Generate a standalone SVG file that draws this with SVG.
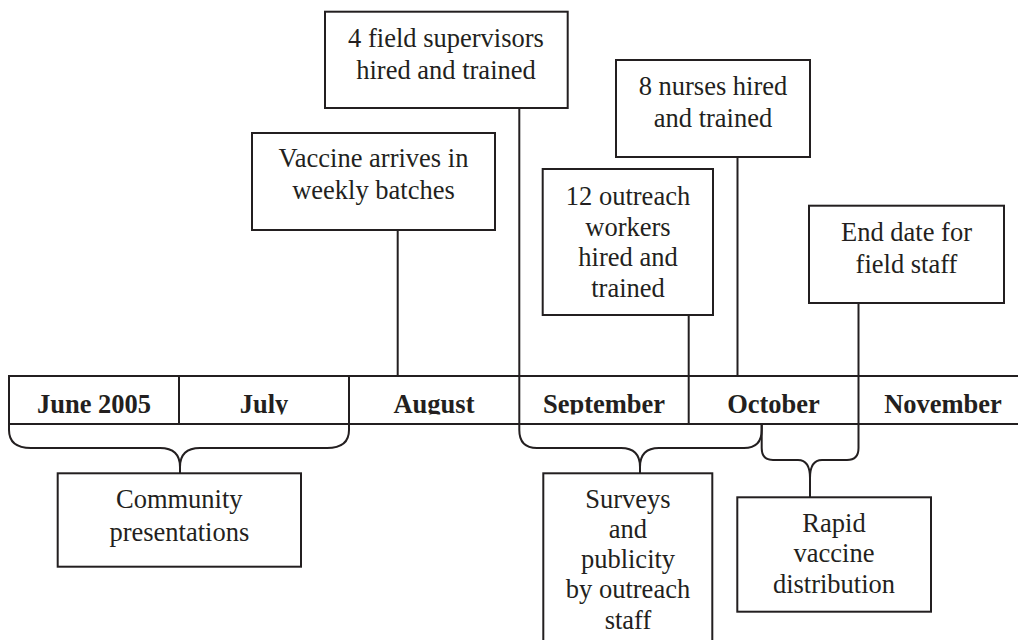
<svg xmlns="http://www.w3.org/2000/svg" width="1018" height="640" viewBox="0 0 1018 640">
<defs>
<style>
.box{fill:#fff;stroke:#231f20;stroke-width:2}
.ln{fill:none;stroke:#231f20;stroke-width:2}
.t{font-family:"Liberation Serif","Times New Roman",serif;font-size:26.5px;fill:#231f20;text-anchor:middle}
.m{font-family:"Liberation Serif","Times New Roman",serif;font-size:26.5px;font-weight:bold;fill:#231f20;text-anchor:middle}
</style>
<clipPath id="monthclip"><rect x="0" y="377" width="1018" height="37.5"/></clipPath>
</defs>
<rect width="1018" height="640" fill="#fff"/>

<g id="timeline">
<line class="ln" x1="9" y1="376" x2="1018" y2="376"/>
<line class="ln" x1="9" y1="424" x2="1018" y2="424"/>
<line class="ln" x1="9" y1="375" x2="9" y2="425"/>
<line class="ln" x1="179" y1="376" x2="179" y2="424"/>
<line class="ln" x1="349" y1="376" x2="349" y2="424"/>
<g clip-path="url(#monthclip)">
<text class="m" x="94" y="413">June 2005</text>
<text class="m" x="264" y="413">July</text>
<text class="m" x="434" y="413">August</text>
<text class="m" x="604" y="413">September</text>
<text class="m" x="773.5" y="413">October</text>
<text class="m" x="943" y="413">November</text>
</g>
</g>

<g id="connectors">
<line class="ln" x1="397.7" y1="230" x2="397.7" y2="376"/>
<line class="ln" x1="519.3" y1="108" x2="519.3" y2="424"/>
<line class="ln" x1="688.7" y1="315" x2="688.7" y2="424"/>
<line class="ln" x1="737.5" y1="157" x2="737.5" y2="376"/>
<line class="ln" x1="858.5" y1="303" x2="858.5" y2="424"/>
<path class="ln" d="M9,424 V430 Q9,448 31,448 H160 Q180,448 180,467 V473 M180,467 Q180,448 200,448 H327 Q349,448 349,430 V424"/>
<path class="ln" d="M519.3,424 V430 Q519.3,448 537,448 H621 Q640,448 640,467 V473 M640,467 Q640,448 659,448 H744 Q761.7,448 761.7,430 V424"/>
<path class="ln" d="M761.7,424 V448 Q761.7,460 773,460 H798 Q810,460 810,478 V497 M810,478 Q810,460 822,460 H847 Q858.5,460 858.5,448 V424"/>
</g>

<g id="node-supervisors">
<rect class="box" x="325" y="11.7" width="242.7" height="96.3"/>
<text class="t" x="446" y="46.7">4 field supervisors</text>
<text class="t" x="446" y="79">hired and trained</text>
</g>

<g id="node-vaccine">
<rect class="box" x="252" y="133" width="243" height="97"/>
<text class="t" x="373.5" y="166.7">Vaccine arrives in</text>
<text class="t" x="373.5" y="199">weekly batches</text>
</g>

<g id="node-nurses">
<rect class="box" x="616" y="60" width="194" height="97"/>
<text class="t" x="713" y="95">8 nurses hired</text>
<text class="t" x="713" y="127.3">and trained</text>
</g>

<g id="node-outreach">
<rect class="box" x="542.7" y="169" width="170.3" height="146"/>
<text class="t" x="628" y="205">12 outreach</text>
<text class="t" x="628" y="235.5">workers</text>
<text class="t" x="628" y="265.7">hired and</text>
<text class="t" x="628" y="296.7">trained</text>
</g>

<g id="node-enddate">
<rect class="box" x="809" y="205.7" width="195" height="97.3"/>
<text class="t" x="906.5" y="241">End date for</text>
<text class="t" x="906.5" y="272.7">field staff</text>
</g>

<g id="node-community">
<rect class="box" x="57.7" y="473.3" width="243.3" height="93.4"/>
<text class="t" x="179.3" y="507.7">Community</text>
<text class="t" x="179.3" y="541">presentations</text>
</g>

<g id="node-surveys">
<rect class="box" x="543.3" y="473.3" width="169" height="180"/>
<text class="t" x="628" y="508.3">Surveys</text>
<text class="t" x="628" y="538.3">and</text>
<text class="t" x="628" y="568.3">publicity</text>
<text class="t" x="628" y="598.3">by outreach</text>
<text class="t" x="628" y="628.5">staff</text>
</g>

<g id="node-rapid">
<rect class="box" x="737.3" y="497.3" width="193.7" height="114.4"/>
<text class="t" x="834" y="532">Rapid</text>
<text class="t" x="834" y="561.7">vaccine</text>
<text class="t" x="834" y="593">distribution</text>
</g>
</svg>
